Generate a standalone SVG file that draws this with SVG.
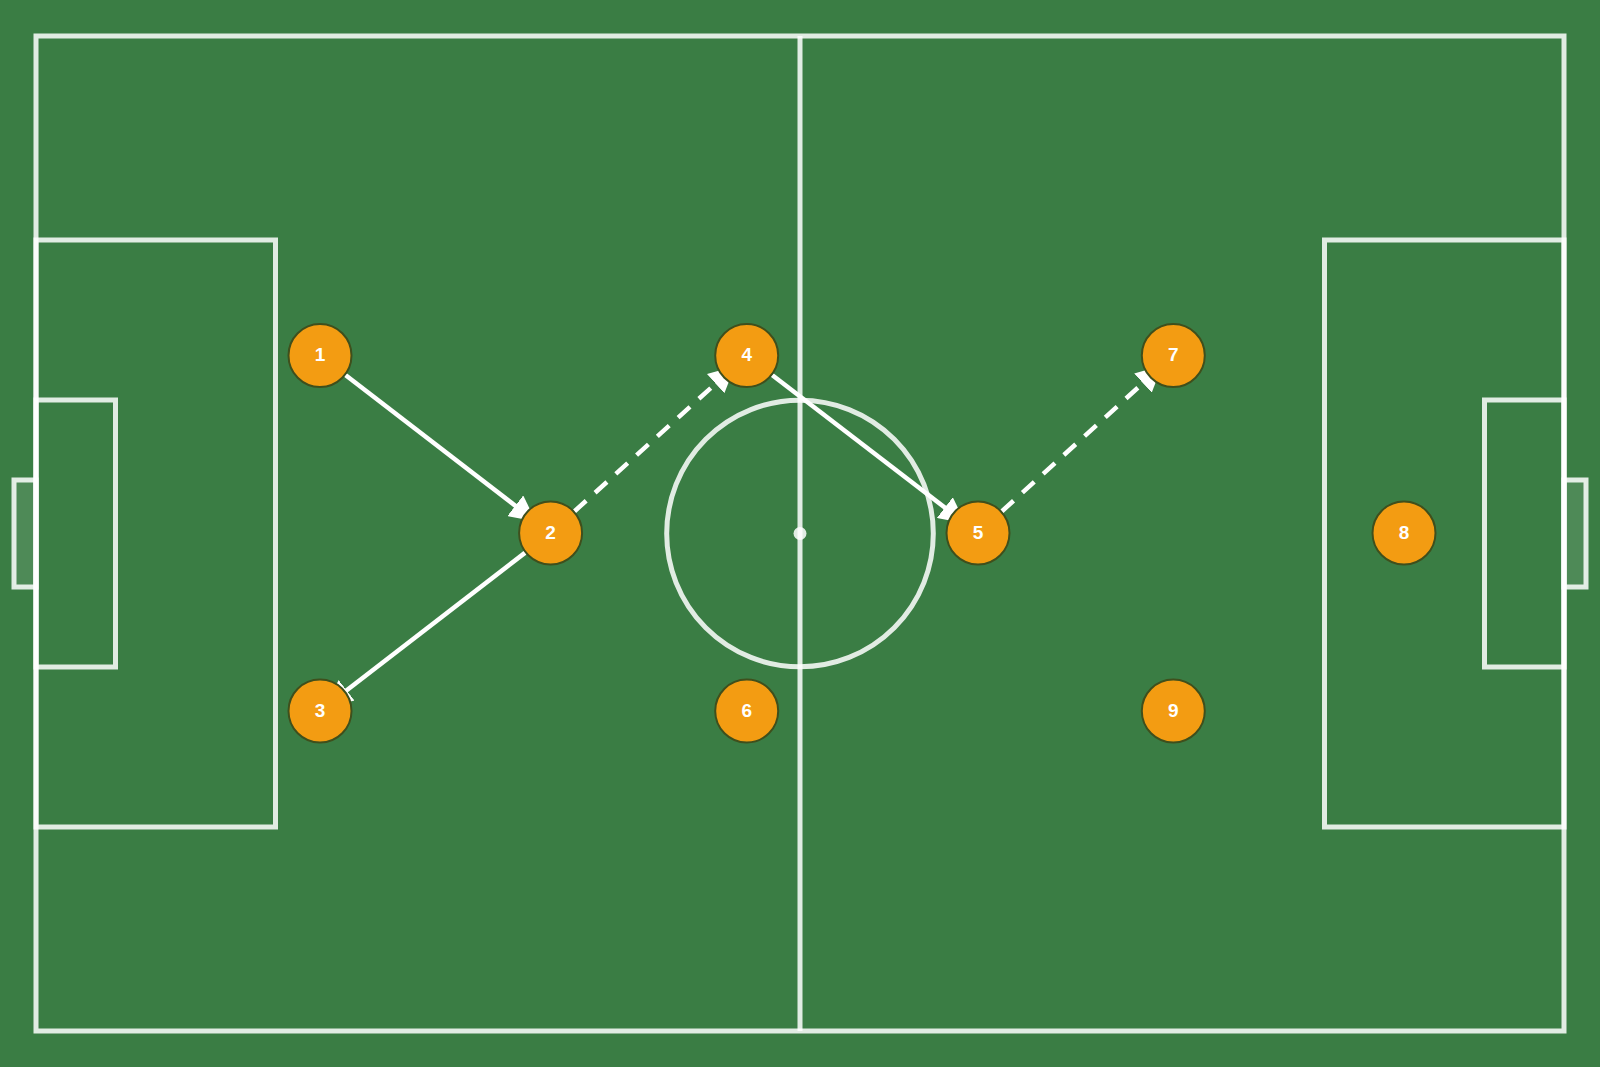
<svg xmlns="http://www.w3.org/2000/svg" width="1600" height="1067" viewBox="0 0 1600 1067">
<style>
.ln{fill:none;stroke:#ffffff;stroke-opacity:0.85;stroke-width:5}
.goal{fill:#ffffff;fill-opacity:0.1;stroke:#ffffff;stroke-opacity:0.85;stroke-width:5}
.spot{fill:#ffffff;fill-opacity:0.85}
.pass{fill:none;stroke:#ffffff;stroke-width:4.5}
.run{fill:none;stroke:#ffffff;stroke-width:4.5;stroke-dasharray:16 12}
.node circle{fill:#f39c12;stroke:#3f4f1c;stroke-width:2}
.node text{fill:#ffffff;font-family:"Liberation Sans",Arial,sans-serif;font-weight:bold;font-size:19px;text-anchor:middle}
</style>
<defs>
<marker id="ah" markerUnits="userSpaceOnUse" viewBox="0 0 26 26" markerWidth="26" markerHeight="26" refX="26" refY="13" orient="auto">
<path d="M0,0 L26,13 L0,26 z" fill="#ffffff"/>
</marker>
</defs>
<rect x="0" y="0" width="1600" height="1067" fill="#3a7d44"/>
<g id="pitch">
<rect class="ln" x="36" y="36" width="1528" height="995"/>
<line class="ln" x1="800" y1="36" x2="800" y2="1031"/>
<circle class="ln" cx="800" cy="533.5" r="133.3"/>
<circle class="spot" cx="800" cy="533.5" r="6.5"/>
<rect class="ln" x="36" y="240" width="239.5" height="587"/>
<rect class="ln" x="36" y="400" width="79.5" height="267"/>
<rect class="goal" x="14" y="480" width="22" height="107"/>
<rect class="ln" x="1324.5" y="240" width="239.5" height="587"/>
<rect class="ln" x="1484.5" y="400" width="79.5" height="267"/>
<rect class="goal" x="1564" y="480" width="22" height="107"/>
</g>
<g id="connectors">
<line class="pass" x1="345.4" y1="375" x2="535.9" y2="521.6" marker-end="url(#ah)"/>
<line class="pass" x1="525.2" y1="552.6" x2="326.0" y2="706.3" marker-end="url(#ah)"/>
<line class="run" x1="574.3" y1="511.5" x2="734.9" y2="366.2" marker-end="url(#ah)"/>
<line class="pass" x1="772.1" y1="375" x2="965.5" y2="523.4" marker-end="url(#ah)"/>
<line class="run" x1="1001.7" y1="511.5" x2="1162.2" y2="365.6" marker-end="url(#ah)"/>
</g>
<g id="n1" class="node"><circle cx="320" cy="355.5" r="31.5"/><text x="320" y="361">1</text></g>
<g id="n2" class="node"><circle cx="550.6" cy="533" r="31.5"/><text x="550.6" y="538.5">2</text></g>
<g id="n3" class="node"><circle cx="320" cy="711" r="31.5"/><text x="320" y="716.5">3</text></g>
<g id="n4" class="node"><circle cx="746.7" cy="355.5" r="31.5"/><text x="746.7" y="361">4</text></g>
<g id="n5" class="node"><circle cx="978" cy="533" r="31.5"/><text x="978" y="538.5">5</text></g>
<g id="n6" class="node"><circle cx="746.7" cy="711" r="31.5"/><text x="746.7" y="716.5">6</text></g>
<g id="n7" class="node"><circle cx="1173.3" cy="355.5" r="31.5"/><text x="1173.3" y="361">7</text></g>
<g id="n8" class="node"><circle cx="1404" cy="533" r="31.5"/><text x="1404" y="538.5">8</text></g>
<g id="n9" class="node"><circle cx="1173.3" cy="711" r="31.5"/><text x="1173.3" y="716.5">9</text></g>
</svg>
